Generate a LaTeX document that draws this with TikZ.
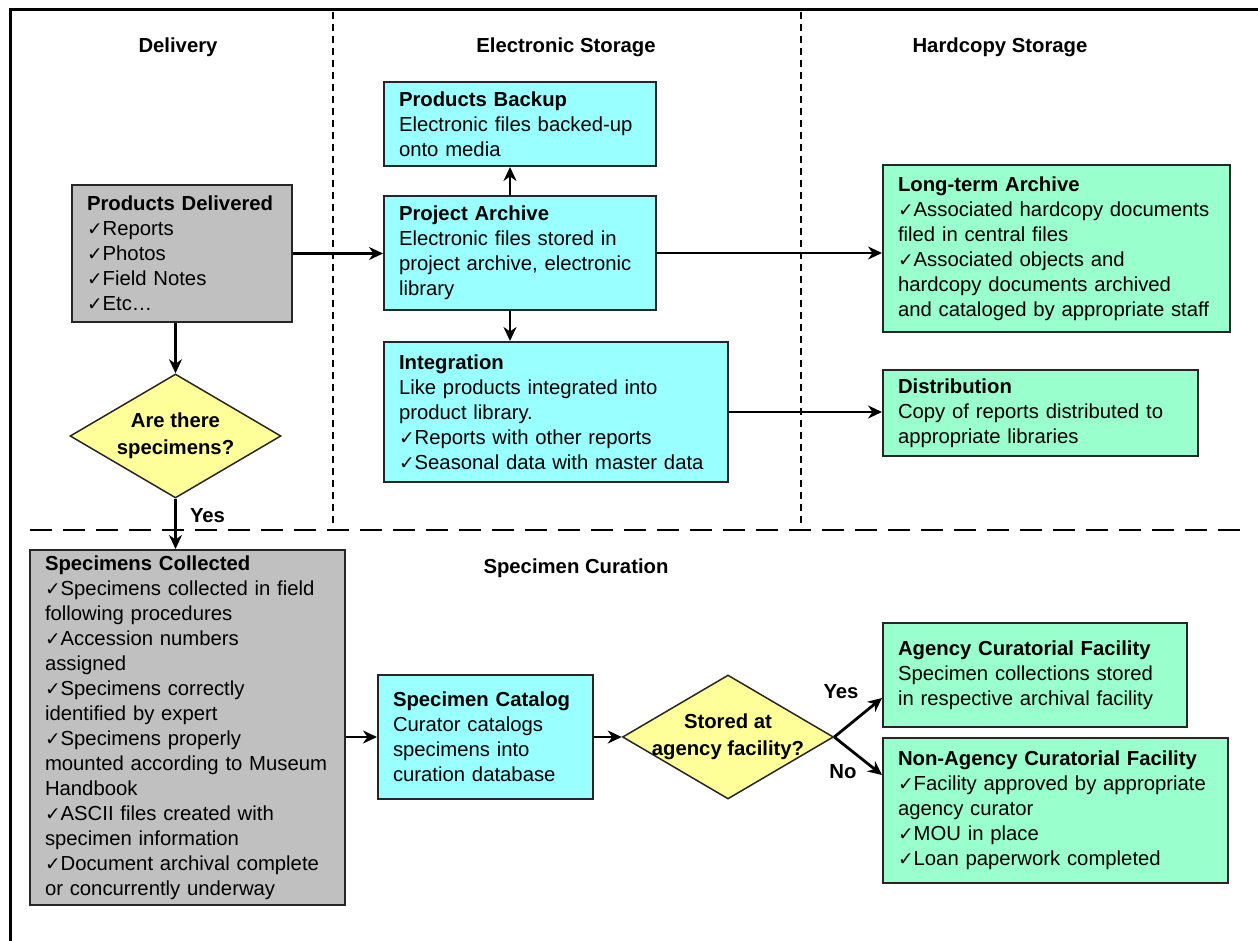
\documentclass[tikz,border=0pt]{standalone}
\usepackage{fontspec}
\setmainfont{Liberation Sans}
\newfontfamily\checkfont[Scale=0.92]{DejaVu Sans}
\usetikzlibrary{shapes.geometric,arrows.meta}
\definecolor{boxgray}{HTML}{C0C0C0}
\definecolor{boxcyan}{HTML}{99FFFF}
\definecolor{boxgreen}{HTML}{99FFCC}
\definecolor{decyellow}{HTML}{FFFF99}
\newcommand\ck{{\checkfont ✓}}

\begin{document}
\begin{tikzpicture}[x=1pt,y=-1pt,
  every node/.style={font=\fontsize{20.3}{25}\selectfont},
  box/.style={draw=black!85, line width=2pt, inner xsep=15pt, inner ysep=3pt, align=left},
  graybox/.style={box, fill=boxgray},
  cyanbox/.style={box, fill=boxcyan},
  greenbox/.style={box, fill=boxgreen},
  decision/.style={diamond, draw=black!85, line width=1.5pt, fill=decyellow,
    minimum width=211pt, minimum height=124pt, inner sep=0pt},
  dtext/.style={font=\fontsize{20.3}{27}\selectfont\bfseries, align=center, inner sep=0pt},
  hdr/.style={font=\fontsize{20.3}{25}\selectfont\bfseries},
  lbl/.style={font=\fontsize{20.3}{25}\selectfont\bfseries, inner sep=1pt},
  arr/.style={line width=2.8pt, -{Stealth[length=14pt,width=13pt,inset=4.5pt]}},
  vdash/.style={line width=1.3pt, dash pattern=on 7pt off 5pt},
  hdash/.style={line width=2.2pt, dash pattern=on 22pt off 11pt}]

\useasboundingbox (0,0) rectangle (1258,941);
\fill[white] (0,0) rectangle (1258,941);

% page frame (only top and left edges fall inside the page)
\draw[line width=3pt] (10,941) -- (10,10) -- (1258,10);

% swim-lane separators
\draw[vdash] (333,12) -- (333,524);
\draw[vdash] (801,12) -- (801,524);
\draw[hdash] (30,530) -- (1240,530);

% lane headings
\node[hdr] (hdel) at (178,47) {Delivery};
\node[hdr] (hel)  at (566,47) {Electronic Storage};
\node[hdr] (hhc)  at (1000,47) {Hardcopy Storage};
\node[hdr] (hcur) at (576,568) {Specimen Curation};

% delivery
\node[graybox, minimum width=220pt, minimum height=137pt, text width=190pt] (pd) at (182,253.5)
  {\textbf{Products Delivered}\\\ck Reports\\\ck Photos\\\ck Field Notes\\\ck Etc…};
\node[decision] (d1) at (175.5,436) {};
\node[dtext] (d1t) at (d1) {Are there\\specimens?};

% electronic storage
\node[cyanbox, minimum width=272pt, minimum height=84pt, text width=242pt] (backup) at (520,124)
  {\textbf{Products Backup}\\Electronic files backed-up\\onto media};
\node[cyanbox, minimum width=272pt, minimum height=114pt, text width=242pt] (archive) at (520,253)
  {\textbf{Project Archive}\\Electronic files stored in\\project archive, electronic\\library};
\node[cyanbox, minimum width=344pt, minimum height=140pt, text width=314pt] (integ) at (556,412)
  {\textbf{Integration}\\Like products integrated into\\product library.\\\ck Reports with other reports\\\ck Seasonal data with master data};

% hardcopy storage
\node[greenbox, minimum width=347pt, minimum height=167pt, text width=317pt] (lta) at (1056.5,248.5)
  {\textbf{Long-term Archive}\\\ck Associated hardcopy documents\\filed in central files\\\ck Associated objects and\\hardcopy documents archived\\and cataloged by appropriate staff};
\node[greenbox, minimum width=315pt, minimum height=86pt, text width=285pt] (dist) at (1040.5,413)
  {\textbf{Distribution}\\Copy of reports distributed to\\appropriate libraries};

% specimen curation
\node[graybox, minimum width=315pt, minimum height=355pt, text width=285pt] (spc) at (187.5,727.5)
  {\textbf{Specimens Collected}\\\ck Specimens collected in field\\following procedures\\\ck Accession numbers\\assigned\\\ck Specimens correctly\\identified by expert\\\ck Specimens properly\\mounted according to Museum\\Handbook\\\ck ASCII files created with\\specimen information\\\ck Document archival complete\\or concurrently underway};
\node[cyanbox, minimum width=215pt, minimum height=124pt, text width=185pt] (cat) at (485.5,737)
  {\textbf{Specimen Catalog}\\Curator catalogs\\specimens into\\curation database};
\node[decision] (d2) at (728,737) {};
\node[dtext] (d2t) at (d2) {Stored at\\agency facility?};
\node[greenbox, minimum width=304pt, minimum height=104pt, text width=274pt] (acf) at (1035,675)
  {\textbf{Agency Curatorial Facility}\\Specimen collections stored\\in respective archival facility};
\node[greenbox, minimum width=345pt, minimum height=145pt, text width=315pt] (naf) at (1055.5,810.5)
  {\textbf{Non-Agency Curatorial Facility}\\\ck Facility approved by appropriate\\agency curator\\\ck MOU in place\\\ck Loan paperwork completed};

% connectors
\draw[arr] (pd.east) -- (pd.east -| archive.west);
\draw[arr] ([xshift=-10pt]archive.north) -- ([xshift=-10pt]backup.south);
\draw[arr] ([xshift=-10pt]archive.south) -- ([xshift=-10pt]archive.south |- integ.north);
\draw[arr] (archive.east) -- (archive.east -| lta.west);
\draw[arr] (integ.east) -- (integ.east -| dist.west);
\draw[arr] (d1.north |- pd.south) -- (d1.north);
\draw[arr] (d1.south) -- (d1.south |- spc.north);
\draw[arr] (spc.east |- cat.west) -- (cat.west);
\draw[arr] (cat.east) -- (d2.west);
\draw[arr] (d2.east) -- ([yshift=-23pt]acf.west);
\draw[arr] (d2.east) -- ([yshift=35.5pt]naf.west);

% branch labels
\node[lbl] (yes1) at (207.5,516) {Yes};
\node[lbl] (yes2) at (841,692) {Yes};
\node[lbl] (no2)  at (843,772) {No};
\end{tikzpicture}
\end{document}
